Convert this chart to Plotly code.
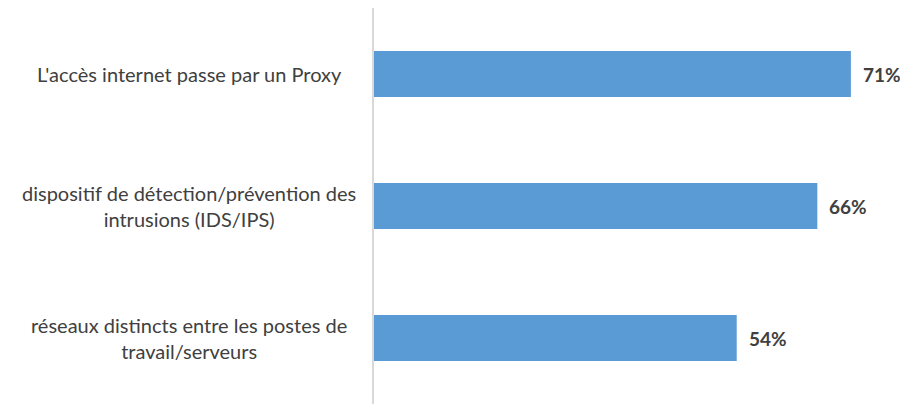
import plotly.graph_objects as go

categories = [
    "L'accès internet passe par un Proxy",
    "dispositif de détection/prévention des<br>intrusions (IDS/IPS)",
    "réseaux distincts entre les postes de<br>travail/serveurs",
]
values = [71, 66, 54]
value_labels = ["71%", "66%", "54%"]

FONT = "Lato"
TXT = "#404040"

fig = go.Figure(
    go.Bar(
        y=categories,
        x=values,
        orientation="h",
        marker=dict(color="#5b9bd5", line=dict(width=0)),
        width=0.35,
        hoverinfo="skip",
    )
)

annotations = []
for c in categories:
    annotations.append(dict(
        xref="paper", x=0, xanchor="center", xshift=-185,
        yref="y", y=c, yanchor="middle",
        text=c, showarrow=False, align="center",
        font=dict(family=FONT, size=20, color=TXT),
    ))
for c, v, t in zip(categories, values, value_labels):
    annotations.append(dict(
        xref="x", x=v, xanchor="left", xshift=10,
        yref="y", y=c, yanchor="middle",
        text="<b>" + t + "</b>", showarrow=False,
        font=dict(family=FONT, size=19, color=TXT),
    ))

fig.update_layout(
    width=900, height=396,
    margin=dict(l=366, r=0, t=0, b=0),
    paper_bgcolor="white", plot_bgcolor="white",
    showlegend=False,
    annotations=annotations,
    xaxis=dict(range=[0, 79.5], visible=False, fixedrange=True),
    yaxis=dict(
        autorange="reversed", showticklabels=False, ticks="",
        showgrid=False, zeroline=False,
        showline=True, linecolor="#d9d9d9", linewidth=2,
        fixedrange=True,
    ),
)

fig.write_html("out.html")
